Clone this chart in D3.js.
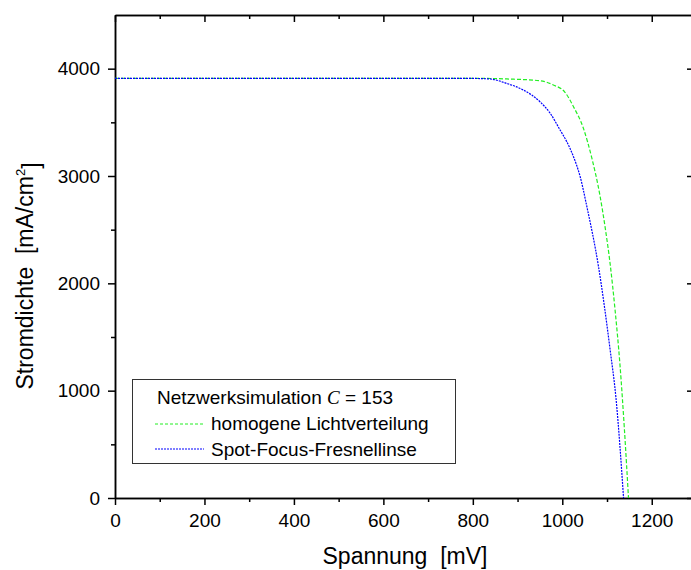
<!DOCTYPE html>
<html>
<head>
<meta charset="utf-8">
<script src="https://cdn.jsdelivr.net/npm/d3@7"></script>
<style>
  body { margin: 0; background: #fff; }
  text { font-family: "Liberation Sans", Arial, sans-serif; fill: #000; }
</style>
</head>
<body>
<div id="chart"></div>
<script>
// I-V Kennlinien
var voltHomogen = [0, 200, 400, 600, 800, 876, 950, 980, 1006, 1025, 1047, 1066, 1084, 1096, 1107, 1118, 1129, 1139, 1148];
var currHomogen = [3910, 3910, 3910, 3910, 3910, 3904, 3888, 3848, 3780, 3646, 3447, 3168, 2823, 2516, 2180, 1752, 1239, 634, 0];

var voltSpot = [0, 200, 400, 600, 700, 800, 838, 876, 913, 950, 973, 995, 1010, 1025, 1040, 1055, 1081, 1107, 1120, 1137];
var currSpot = [3910, 3910, 3910, 3910, 3910, 3909, 3904, 3862, 3801, 3692, 3584, 3429, 3320, 3180, 2993, 2714, 2155, 1379, 932, 0];

var xMajor = [0, 200, 400, 600, 800, 1000, 1200];
var xMinor = [100, 300, 500, 700, 900, 1100];
var yMajor = [0, 1000, 2000, 3000, 4000];
var yMinor = [500, 1500, 2500, 3500];

var legendTitle = "Netzwerksimulation ";
var seriesNames = ["homogene Lichtverteilung", "Spot-Focus-Fresnellinse"];

var svgWidth = 691, svgHeight = 570;
var plotLeft = 115, plotRight = 692, plotTop = 15, plotBottom = 498;

var svg = d3.select("#chart")
  .append("svg")
  .attr("width", svgWidth)
  .attr("height", svgHeight);

var x = d3.scaleLinear().domain([0, 1290]).range([plotLeft, plotRight]);
var y = d3.scaleLinear().domain([0, 4500]).range([plotBottom, plotTop]);

function styleAxis(g) {
  g.selectAll("path").attr("stroke", "#000").attr("stroke-width", 1.5);
  g.selectAll("line").attr("stroke", "#000").attr("stroke-width", 1.5);
  g.selectAll("text").style("font-size", "19px").attr("fill", "#000");
}

// bottom axis
svg.append("g")
  .attr("transform", "translate(0," + plotBottom + ")")
  .call(d3.axisBottom(x).tickValues(xMajor).tickSize(7).tickSizeOuter(0).tickPadding(9).tickFormat(d3.format("d")))
  .call(styleAxis);
svg.append("g")
  .attr("transform", "translate(0," + plotBottom + ")")
  .call(d3.axisBottom(x).tickValues(xMinor).tickSize(4).tickSizeOuter(0).tickFormat(""))
  .call(styleAxis);

// top axis (ticks inward)
svg.append("g")
  .attr("transform", "translate(0," + plotTop + ")")
  .call(d3.axisTop(x).tickValues(xMajor).tickSize(-7).tickSizeOuter(0).tickFormat(""))
  .call(styleAxis);
svg.append("g")
  .attr("transform", "translate(0," + plotTop + ")")
  .call(d3.axisTop(x).tickValues(xMinor).tickSize(-4).tickSizeOuter(0).tickFormat(""))
  .call(styleAxis);

// left axis
svg.append("g")
  .attr("transform", "translate(" + plotLeft + ",0)")
  .call(d3.axisLeft(y).tickValues(yMajor).tickSize(7).tickSizeOuter(0).tickPadding(8).tickFormat(d3.format("d")))
  .call(styleAxis);
svg.append("g")
  .attr("transform", "translate(" + plotLeft + ",0)")
  .call(d3.axisLeft(y).tickValues(yMinor).tickSize(4).tickSizeOuter(0).tickFormat(""))
  .call(styleAxis);

// right axis (mostly cut off)
svg.append("g")
  .attr("transform", "translate(" + plotRight + ",0)")
  .call(d3.axisRight(y).tickValues(yMajor).tickSize(-5).tickSizeOuter(0).tickFormat(""))
  .call(styleAxis);

// curves
var line = d3.line()
  .x(function(d) { return x(d[0]); })
  .y(function(d) { return y(d[1]); })
  .curve(d3.curveMonotoneX);

var homogenData = voltHomogen.map(function(v, i) { return [v, currHomogen[i]]; });
var spotData = voltSpot.map(function(v, i) { return [v, currSpot[i]]; });

svg.append("path")
  .datum(homogenData)
  .attr("d", line)
  .attr("fill", "none")
  .attr("stroke", "#22ee22")
  .attr("stroke-width", 1.2)
  .attr("stroke-dasharray", "4,2");

svg.append("path")
  .datum(spotData)
  .attr("d", line)
  .attr("fill", "none")
  .attr("stroke", "#0000ff")
  .attr("stroke-width", 1.2)
  .attr("stroke-dasharray", "2,1");

// legend
var lg = svg.append("g");
lg.append("rect")
  .attr("x", 132.5).attr("y", 379.5)
  .attr("width", 323).attr("height", 84)
  .attr("fill", "#fff")
  .attr("stroke", "#333")
  .attr("stroke-width", 1);

var t = lg.append("text")
  .attr("x", 157).attr("y", 404)
  .style("font-size", "19px");
t.append("tspan").text(legendTitle);
t.append("tspan")
  .style("font-family", "'Liberation Serif', 'Times New Roman', serif")
  .style("font-style", "italic")
  .text("C");
t.append("tspan").text(" = 153");

lg.append("line")
  .attr("x1", 155).attr("x2", 204).attr("y1", 424).attr("y2", 424)
  .attr("stroke", "#22ee22").attr("stroke-width", 1).attr("stroke-dasharray", "3,2");
lg.append("text")
  .attr("x", 211).attr("y", 430)
  .style("font-size", "19px")
  .text(seriesNames[0]);

lg.append("line")
  .attr("x1", 155).attr("x2", 204).attr("y1", 449).attr("y2", 449)
  .attr("stroke", "#0000ff").attr("stroke-width", 1.2).attr("stroke-dasharray", "2,1");
lg.append("text")
  .attr("x", 211).attr("y", 456)
  .style("font-size", "19px")
  .text(seriesNames[1]);

// axis titles
svg.append("text")
  .attr("x", 405).attr("y", 564)
  .attr("text-anchor", "middle")
  .style("font-size", "23px")
  .style("white-space", "pre")
  .text("Spannung  [mV]");

var yt = svg.append("text")
  .attr("transform", "translate(33,276) rotate(-90)")
  .attr("text-anchor", "middle")
  .style("font-size", "23px")
  .style("white-space", "pre");
yt.append("tspan").text("Stromdichte  [mA/cm");
yt.append("tspan").attr("dy", "-0.6em").style("font-size", "13px").text("2");
yt.append("tspan").attr("dy", "0.6em").text("]");
</script>
</body>
</html>
